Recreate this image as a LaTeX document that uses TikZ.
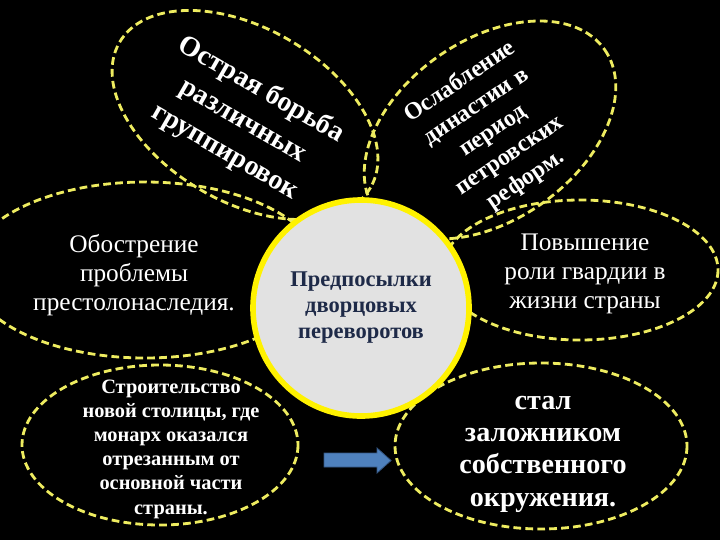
\documentclass[tikz,border=0pt]{standalone}
\usepackage{fontspec}
\setmainfont{Liberation Serif}
\usepackage{tikz}
\usetikzlibrary{calc}

\definecolor{dashyellow}{RGB}{238,236,96}
\definecolor{hubyellow}{RGB}{255,242,0}
\definecolor{hubfill}{RGB}{226,226,226}
\definecolor{hubtext}{RGB}{30,42,72}
\definecolor{arrowblue}{RGB}{79,129,189}
\definecolor{arrowedge}{RGB}{52,86,130}

\begin{document}
\begin{tikzpicture}[x=0.025cm,y=-0.025cm,
    petal/.style={dashyellow, line width=2pt, dash pattern=on 5.5pt off 3pt},
    petaltext/.style={white, align=center, inner sep=0pt}]
            \useasboundingbox (0,0) rectangle (720,540);
            \clip (0,0) rectangle (720,540);
            \fill [black] (0,0) rectangle (720,540);
            % petals
            \draw [petal, rotate around={-30:(245,115)}] (245,115) ellipse (145 and 87);
            \draw [petal, rotate around={35:(490,130)}] (490,130) ellipse (140 and 90);
            \draw [petal] (145,270) ellipse (176 and 88);
            \draw [petal] (580,270) ellipse (138 and 70);
            \draw [petal] (160,445) ellipse (138 and 80);
            \draw [petal] (541,446) ellipse (146 and 83);
            % centre
            \node [circle, draw=hubyellow, line width=4pt, fill=hubfill, minimum size=5.4cm,
                   text=hubtext, align=center, font=\fontsize{16}{18.5}\selectfont\bfseries]
                  (hub) at (361,308) {Предпосылки\\дворцовых\\переворотов};
            % arrow between the lower petals
            \draw [fill=arrowblue, draw=arrowedge, line width=0.6pt]
                  (324,453) -- (377,453) -- (377,448) -- (391,460.5) -- (377,473) -- (377,467) -- (324,467) -- cycle;
          \node [petaltext, rotate=-30, font=\fontsize{20}{25.5}\selectfont\bfseries]
                (struggle) at (243,121) {Острая борьба\\различных\\группировок};
          \node [petaltext, rotate=34, font=\fontsize{17}{21}\selectfont\bfseries]
                (dynasty) at (493,131) {Ослабление\\династии в\\период\\петровских\\реформ.};
          \node [petaltext, font=\fontsize{18}{20.6}\selectfont]
                (throne) at (134,275) {Обострение\\проблемы\\престолонаследия.};
          \node [petaltext, font=\fontsize{18}{20.6}\selectfont]
                (guard) at (585,274) {Повышение\\роли гвардии в\\жизни страны};
          \node [petaltext, font=\fontsize{14.5}{17.2}\selectfont\bfseries]
                (capital) at (171,449) {Строительство\\новой столицы, где\\монарх оказался\\отрезанным от\\основной части\\страны.};
          \node [petaltext, font=\fontsize{20}{23}\selectfont\bfseries]
                (hostage) at (543,454) {стал\\заложником\\собственного\\окружения.};
\end{tikzpicture}
\end{document}
